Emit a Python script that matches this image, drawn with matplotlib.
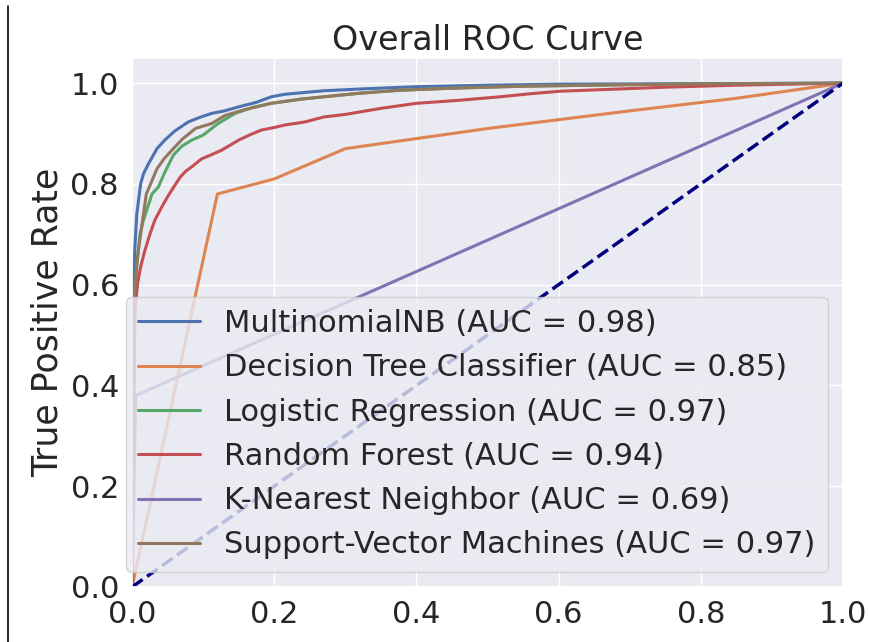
import numpy as np
import matplotlib
matplotlib.use("Agg")
import matplotlib.pyplot as plt
import seaborn as sns
from matplotlib.lines import Line2D

sns.set_theme(style="darkgrid")
plt.rcParams['font.family'] = ['DejaVu Sans']

# ROC-Kurven
mnb_fpr = [0.0, 0.002, 0.004, 0.0066, 0.012, 0.016, 0.023, 0.035, 0.046, 0.06, 0.079, 0.095, 0.112,
           0.13, 0.15, 0.175, 0.196, 0.215, 0.27, 0.33, 0.4, 0.5, 0.6, 0.8, 1.0]
mnb_tpr = [0.0, 0.6, 0.675, 0.74, 0.8, 0.82, 0.84, 0.87, 0.887, 0.905, 0.923, 0.932, 0.94,
           0.945, 0.953, 0.962, 0.973, 0.978, 0.985, 0.989, 0.993, 0.996, 0.998, 0.999, 1.0]

dt_fpr = [0.0, 0.12, 0.2, 0.25, 0.3, 0.5, 0.7, 0.85, 1.0]
dt_tpr = [0.0, 0.78, 0.81, 0.84, 0.87, 0.91, 0.945, 0.97, 1.0]

lr_fpr = [0.0, 0.003, 0.0066, 0.011, 0.016, 0.028, 0.037, 0.045, 0.058, 0.07, 0.084, 0.1, 0.121,
          0.145, 0.17, 0.196, 0.236, 0.27, 0.32, 0.377, 0.45, 0.55, 0.7, 0.85, 1.0]
lr_tpr = [0.0, 0.58, 0.635, 0.70, 0.728, 0.78, 0.794, 0.82, 0.857, 0.875, 0.887, 0.897, 0.92,
          0.94, 0.952, 0.96, 0.968, 0.973, 0.98, 0.986, 0.99, 0.994, 0.997, 0.999, 1.0]

rf_fpr = [0.0, 0.004, 0.008, 0.012, 0.018, 0.025, 0.032, 0.042, 0.051, 0.06, 0.068, 0.076, 0.084,
          0.098, 0.11, 0.126, 0.15, 0.165, 0.182, 0.2, 0.215, 0.243, 0.27, 0.3, 0.35, 0.4, 0.46,
          0.518, 0.56, 0.602, 0.658, 0.75, 0.85, 1.0]
rf_tpr = [0.0, 0.55, 0.605, 0.635, 0.668, 0.70, 0.728, 0.755, 0.777, 0.797, 0.814, 0.826, 0.834,
          0.85, 0.857, 0.867, 0.887, 0.897, 0.907, 0.912, 0.917, 0.923, 0.933, 0.938, 0.95, 0.96,
          0.966, 0.973, 0.979, 0.984, 0.987, 0.992, 0.996, 1.0]

knn_fpr = [0.0, 0.005, 1.0]
knn_tpr = [0.0, 0.38, 1.0]

svm_fpr = [0.0, 0.003, 0.007, 0.012, 0.02, 0.035, 0.045, 0.058, 0.07, 0.089, 0.112, 0.131,
           0.16, 0.196, 0.236, 0.27, 0.32, 0.377, 0.45, 0.55, 0.7, 0.85, 1.0]
svm_tpr = [0.0, 0.57, 0.65, 0.70, 0.78, 0.83, 0.85, 0.87, 0.888, 0.91, 0.92, 0.936,
           0.948, 0.96, 0.968, 0.973, 0.98, 0.986, 0.99, 0.994, 0.997, 0.999, 1.0]

names = ["MultinomialNB", "Decision Tree Classifier", "Logistic Regression",
         "Random Forest", "K-Nearest Neighbor", "Support-Vector Machines"]
aucs = [0.98, 0.85, 0.97, 0.94, 0.69, 0.97]
fprs = [mnb_fpr, dt_fpr, lr_fpr, rf_fpr, knn_fpr, svm_fpr]
tprs = [mnb_tpr, dt_tpr, lr_tpr, rf_tpr, knn_tpr, svm_tpr]

colors = sns.color_palette("deep")

fig = plt.figure(figsize=(8.69, 6.42), dpi=100)
ax = fig.add_axes([0.152, 0.0857, 0.818, 0.824])

for i, name in enumerate(names):
    ax.plot(fprs[i], tprs[i], color=colors[i], lw=2.2,
            label=f"{name} (AUC = {aucs[i]:.2f})")
ax.plot([0, 1], [0, 1], color="navy", lw=2.5, linestyle="--")

ax.set_xlim([0.0, 1.0])
ax.set_ylim([0.0, 1.05])
ax.set_xticks([0.0, 0.2, 0.4, 0.6, 0.8, 1.0])
ax.set_yticks([0.0, 0.2, 0.4, 0.6, 0.8, 1.0])
ax.tick_params(labelsize=22)
ax.set_ylabel("True Positive Rate", fontsize=25)
ax.set_title("Overall ROC Curve", fontsize=24)
ax.legend(loc="lower right", fontsize=22)

# Rand links (Screenshot-Rahmen)
fig.add_artist(Line2D([8 / 869, 8 / 869], [0, 0.99], color="black", lw=1.2))

fig.savefig("out.png", dpi=100)
